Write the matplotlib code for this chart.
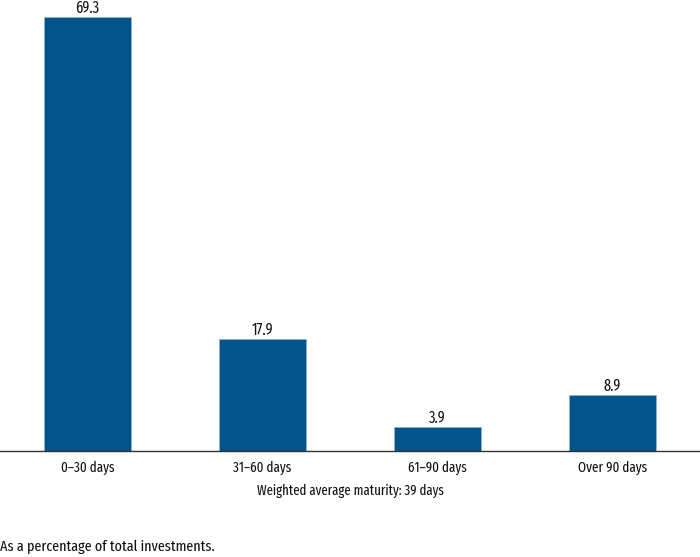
import matplotlib.pyplot as plt

plt.rcParams['font.family'] = ['Fira Sans Extra Condensed', 'Fira Sans Condensed', 'DejaVu Sans']

categories = ['0–30 days', '31–60 days', '61–90 days', 'Over 90 days']
values = [69.3, 17.9, 3.9, 8.9]
note = 'Weighted average maturity: 39 days'
footnote = 'As a percentage of total investments.'

fig = plt.figure(figsize=(7, 5.57), dpi=100)
ax = fig.add_axes([0, 106 / 557, 1, 451 / 557])

x = list(range(len(categories)))
bars = ax.bar(x, values, width=0.5, color='#02548b', edgecolor='#8fb3d3', linewidth=0.6)
for b, v in zip(bars, values):
    ax.text(b.get_x() + b.get_width() / 2, v + 0.6, f'{v:.1f}',
            ha='center', va='baseline', fontsize=11.3, color='#111111')

ax.set_xlim(-0.5, 3.5)
ax.set_ylim(0, 72.0)
ax.set_xticks(x)
ax.set_xticklabels(categories, fontsize=10.2, color='#111111')
ax.tick_params(axis='x', length=0, pad=7)
ax.set_yticks([])
for s in ['top', 'left', 'right']:
    ax.spines[s].set_visible(False)
ax.spines['bottom'].set_color('#333333')
ax.spines['bottom'].set_linewidth(1.0)

fig.text(0.5, 1 - 491 / 557, note, ha='center', va='center', fontsize=10, color='#111111')
fig.text(0.0, 1 - 547 / 557, footnote, ha='left', va='center', fontsize=11, color='#111111')

fig.savefig('out.png', dpi=100)
